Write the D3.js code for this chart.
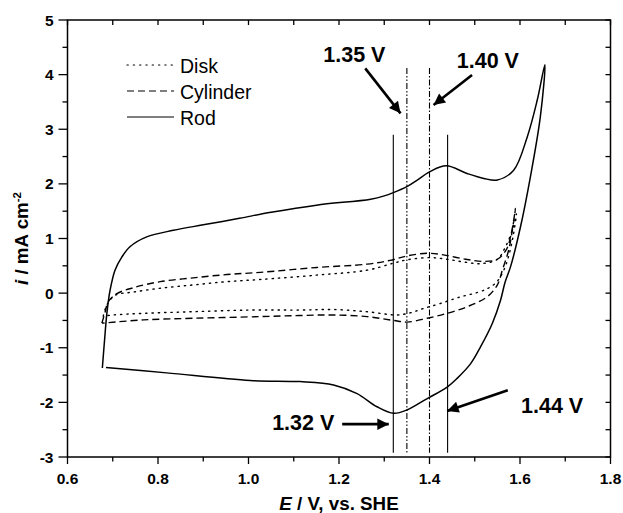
<!DOCTYPE html>
<html>
<head>
<meta charset="utf-8">
<script src="https://cdn.jsdelivr.net/npm/d3@7"></script>
<style>
  html, body { margin: 0; padding: 0; background: #fff; }
  svg { display: block; font-family: "Liberation Sans", Arial, sans-serif; }
</style>
</head>
<body>
<svg id="chart" width="623" height="513"></svg>
<script>
// series values [E (V vs SHE), i (mA cm-2)]
const rod = [
  [0.677,-1.37],[0.682,-0.85],[0.687,-0.37],[0.694,0.05],[0.705,0.42],[0.720,0.66],
  [0.738,0.85],[0.775,1.03],[0.834,1.15],[0.90,1.25],[0.98,1.37],[1.05,1.48],
  [1.15,1.61],[1.27,1.72],[1.30,1.78],[1.32,1.84],[1.35,1.95],[1.373,2.07],
  [1.40,2.22],[1.437,2.33],[1.483,2.19],[1.52,2.10],[1.55,2.07],[1.586,2.25],
  [1.616,2.86],[1.638,3.53],[1.655,4.18],
  [1.645,3.23],[1.623,2.13],[1.601,1.21],[1.579,0.48],[1.567,0.20],[1.557,-0.13],
  [1.539,-0.55],[1.513,-0.98],[1.491,-1.29],[1.461,-1.56],[1.439,-1.72],[1.395,-1.93],
  [1.35,-2.14],[1.321,-2.20],[1.284,-2.08],[1.24,-1.84],[1.188,-1.68],[1.114,-1.62],
  [1.004,-1.60],[0.819,-1.46],[0.685,-1.36]
];
const cylinder = [
  [0.676,-0.55],[0.683,-0.35],[0.690,-0.16],[0.709,-0.01],[0.746,0.10],[0.805,0.21],
  [0.878,0.28],[0.952,0.34],[1.026,0.38],[1.151,0.47],[1.262,0.53],[1.313,0.60],
  [1.350,0.68],[1.395,0.73],[1.431,0.70],[1.48,0.62],[1.52,0.58],[1.55,0.62],
  [1.57,0.80],[1.582,1.15],[1.59,1.55],
  [1.583,1.15],[1.575,0.79],[1.561,0.42],[1.550,0.15],[1.527,-0.07],[1.483,-0.25],
  [1.439,-0.37],[1.395,-0.46],[1.350,-0.53],[1.321,-0.50],[1.262,-0.43],[1.188,-0.40],
  [1.114,-0.41],[1.026,-0.43],[0.878,-0.46],[0.768,-0.49],[0.690,-0.54],[0.676,-0.55]
];
const disk = [
  [0.679,-0.42],[0.683,-0.30],[0.688,-0.20],[0.705,-0.04],[0.746,0.02],[0.805,0.09],
  [0.878,0.15],[0.952,0.21],[1.026,0.25],[1.151,0.33],[1.262,0.42],[1.321,0.55],
  [1.35,0.61],[1.402,0.65],[1.439,0.62],[1.476,0.57],[1.513,0.54],[1.550,0.62],
  [1.568,0.85],[1.583,1.15],[1.592,1.45],
  [1.585,1.05],[1.574,0.65],[1.562,0.38],[1.548,0.20],[1.530,0.09],[1.505,0.01],
  [1.468,-0.07],[1.424,-0.19],[1.387,-0.28],[1.358,-0.36],[1.328,-0.40],[1.262,-0.34],
  [1.188,-0.30],[1.114,-0.31],[1.004,-0.31],[0.878,-0.34],[0.768,-0.37],[0.701,-0.40],
  [0.679,-0.42]
];

const seriesNames = ["Disk", "Cylinder", "Rod"];
const seriesDash = ["1.3,5", "7,4", null];

const xTicks = [0.6, 0.8, 1.0, 1.2, 1.4, 1.6, 1.8];
const yTicks = [-3, -2, -1, 0, 1, 2, 3, 4, 5];

// marker lines: potential, top, bottom, style
const markerE   = [1.32, 1.35, 1.40, 1.44];
const markerTop = [2.9, 4.12, 4.12, 2.9];
const markerBot = [-2.92, -2.92, -2.92, -2.92];
const markerDash = [null, "6,2,1.5,2,1.5,2", "6,2,1.5,2", null];

// labels with arrows: text, label pos, arrow from, arrow tip
const annLabels = ["1.35 V", "1.40 V", "1.32 V", "1.44 V"];
const annText = [[1.234, 4.236], [1.529, 4.115], [1.121, -2.509], [1.671, -2.203]];
const annFrom = [[1.258, 4.115], [1.494, 3.993], [1.207, -2.399], [1.573, -1.777]];
const annTip  = [[1.336, 3.291], [1.409, 3.443], [1.310, -2.399], [1.439, -2.156]];

const svg = d3.select("#chart");
const L = 67.5, R = 610.5, T = 20, B = 457;

const x = d3.scaleLinear().domain([0.6, 1.8]).range([L, R]);
const y = d3.scaleLinear().domain([-3, 5]).range([B, T]);

const line = d3.line()
  .x(d => x(d[0])).y(d => y(d[1]))
  .curve(d3.curveCatmullRom.alpha(0.5));

// minor + major ticks
const xMinor = d3.range(0.6, 1.8001, 0.1);
const yMinor = d3.range(-3, 5.001, 0.5);

const axisG = svg.append("g").attr("stroke", "#000").attr("stroke-width", 1.3);

// bottom: outward
axisG.selectAll(".bx").data(xMinor).join("line")
  .attr("x1", d => x(d)).attr("x2", d => x(d))
  .attr("y1", B).attr("y2", (d, i) => B + (i % 2 === 0 ? 7 : 4.5));
// top: inward
axisG.selectAll(".tx").data(xMinor).join("line")
  .attr("x1", d => x(d)).attr("x2", d => x(d))
  .attr("y1", T).attr("y2", T + 5);
// left: outward
axisG.selectAll(".ly").data(yMinor).join("line")
  .attr("y1", d => y(d)).attr("y2", d => y(d))
  .attr("x1", L).attr("x2", (d, i) => L - (i % 2 === 0 ? 9 : 5));
// right: inward
axisG.selectAll(".ry").data(yMinor).join("line")
  .attr("y1", d => y(d)).attr("y2", d => y(d))
  .attr("x1", R).attr("x2", R - 5);

svg.append("rect")
  .attr("x", L).attr("y", T).attr("width", R - L).attr("height", B - T)
  .attr("fill", "none").attr("stroke", "#000").attr("stroke-width", 1.5);

svg.append("g").selectAll("text").data(xTicks).join("text")
  .attr("x", d => x(d)).attr("y", B + 26.5)
  .attr("text-anchor", "middle")
  .attr("font-size", 15.5).attr("font-weight", "bold")
  .text(d => d.toFixed(1));

svg.append("g").selectAll("text").data(yTicks).join("text")
  .attr("x", L - 14).attr("y", d => y(d) + 5.5)
  .attr("text-anchor", "end")
  .attr("font-size", 15.5).attr("font-weight", "bold")
  .text(d => d);

// axis titles
const xt = svg.append("text")
  .attr("x", (L + R) / 2).attr("y", 509.5)
  .attr("text-anchor", "middle")
  .attr("font-size", 18.8).attr("font-weight", "bold");
xt.append("tspan").attr("font-style", "italic").text("E");
xt.append("tspan").text(" / V, vs. SHE");

const yt = svg.append("text")
  .attr("transform", `translate(28,${(T + B) / 2}) rotate(-90)`)
  .attr("text-anchor", "middle")
  .attr("font-size", 18.8).attr("font-weight", "bold");
yt.append("tspan").attr("font-style", "italic").text("i");
yt.append("tspan").text(" / mA cm");
yt.append("tspan").attr("font-size", 11.5).attr("dy", -7.5).text("-2");

// marker lines
svg.append("g").selectAll("line").data(markerE).join("line")
  .attr("x1", d => x(d)).attr("x2", d => x(d))
  .attr("y1", (d, i) => y(markerTop[i])).attr("y2", (d, i) => y(markerBot[i]))
  .attr("stroke", "#000").attr("stroke-width", 1.1)
  .attr("stroke-dasharray", (d, i) => markerDash[i]);

// curves
const curves = [disk, cylinder, rod];
svg.append("g").selectAll("path").data(curves).join("path")
  .attr("d", line)
  .attr("fill", "none").attr("stroke", "#000")
  .attr("stroke-width", (d, i) => i === 2 ? 1.5 : 1.4)
  .attr("stroke-linecap", (d, i) => i === 0 ? "round" : "butt")
  .attr("stroke-dasharray", (d, i) => seriesDash[i]);

// legend
const leg = svg.append("g");
seriesNames.forEach((name, i) => {
  const ly = 65 + i * 26;
  leg.append("line")
    .attr("x1", 127).attr("x2", 174).attr("y1", ly).attr("y2", ly)
    .attr("stroke", "#000").attr("stroke-width", 1.2)
    .attr("stroke-linecap", i === 0 ? "round" : "butt")
    .attr("stroke-dasharray", seriesDash[i]);
  leg.append("text")
    .attr("x", 180).attr("y", ly + 7.5)
    .attr("font-size", 19.5)
    .text(name);
});

// annotations
svg.append("defs").append("marker")
  .attr("id", "ah").attr("viewBox", "0 0 10 10")
  .attr("refX", 10).attr("refY", 5)
  .attr("markerWidth", 5.5).attr("markerHeight", 4.4)
  .attr("markerUnits", "strokeWidth")
  .attr("orient", "auto")
  .append("path").attr("d", "M0,0 L10,5 L0,10 z").attr("fill", "#000");

const ann = svg.append("g");
ann.selectAll("line").data(annFrom).join("line")
  .attr("x1", d => x(d[0])).attr("y1", d => y(d[1]))
  .attr("x2", (d, i) => x(annTip[i][0])).attr("y2", (d, i) => y(annTip[i][1]))
  .attr("stroke", "#000").attr("stroke-width", 2.6)
  .attr("marker-end", "url(#ah)");
ann.selectAll("text").data(annLabels).join("text")
  .attr("x", (d, i) => x(annText[i][0])).attr("y", (d, i) => y(annText[i][1]))
  .attr("text-anchor", "middle")
  .attr("font-size", 21.5).attr("font-weight", "bold")
  .text(d => d);
</script>
</body>
</html>
